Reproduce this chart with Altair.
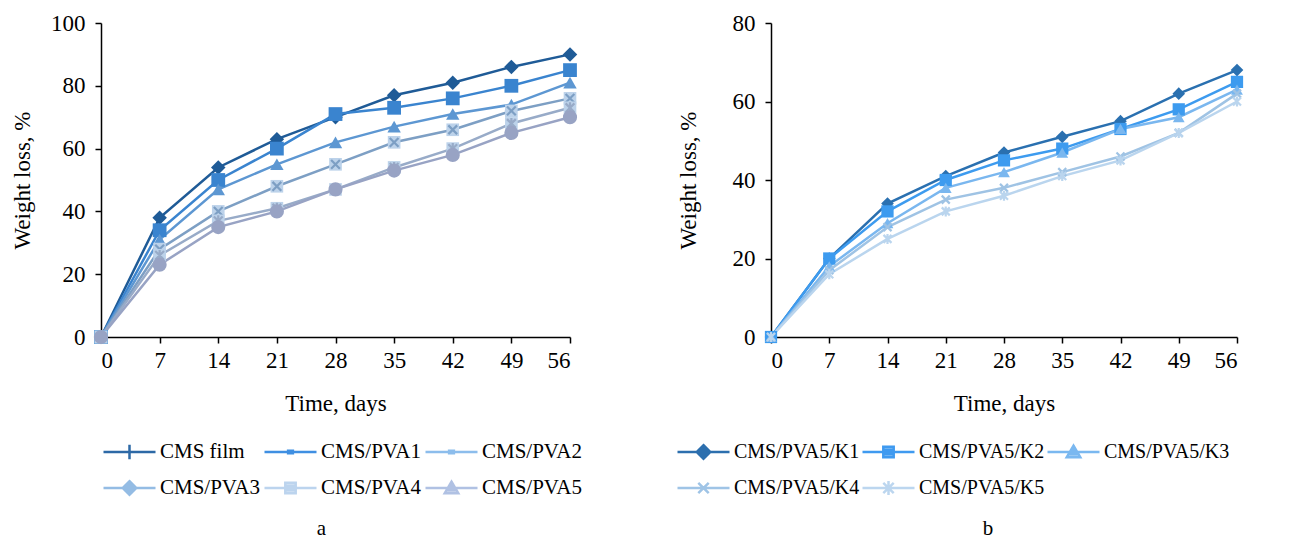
import altair as alt
import pandas as pd

days = [0, 7, 14, 21, 28, 35, 42, 49, 56]

# Panel a
series_a = ["CMS film", "CMS/PVA1", "CMS/PVA2", "CMS/PVA3", "CMS/PVA4", "CMS/PVA5"]
cms_film = [0, 38, 54, 63, 70, 77, 81, 86, 90]
cms_pva1 = [0, 34, 50, 60, 71, 73, 76, 80, 85]
cms_pva2 = [0, 31, 47, 55, 62, 67, 71, 74, 81]
cms_pva3 = [0, 28, 40, 48, 55, 62, 66, 72, 76]
cms_pva4 = [0, 26, 37, 41, 47, 54, 60, 68, 73]
cms_pva5 = [0, 23, 35, 40, 47, 53, 58, 65, 70]

# Panel b
series_b = ["CMS/PVA5/K1", "CMS/PVA5/K2", "CMS/PVA5/K3", "CMS/PVA5/K4", "CMS/PVA5/K5"]
k1 = [0, 20, 34, 41, 47, 51, 55, 62, 68]
k2 = [0, 20, 32, 40, 45, 48, 53, 58, 65]
k3 = [0, 18, 29, 38, 42, 47, 53, 56, 63]
k4 = [0, 17, 28, 35, 38, 42, 46, 52, 62]
k5 = [0, 16, 25, 32, 36, 41, 45, 52, 60]

FONT = "Liberation Serif"
AXFS = 23

X_PATH = "M-0.8,-0.8L0.8,0.8M-0.8,0.8L0.8,-0.8"
AST_PATH = "M-0.8,-0.8L0.8,0.8M-0.8,0.8L0.8,-0.8M0,-1L0,1"

# plot marker styles: (shape, filled, size)
markers_a = [("diamond", True, 210), ("square", True, 190), ("triangle-up", True, 180),
             (X_PATH, False, 120), (AST_PATH, False, 120), ("circle", True, 200)]
bg_a = [False, False, False, True, True, False]
line_colors_a = ["#1f5b97", "#3a84cf", "#5d97d2", "#7d9fc4", "#98abc8", "#98a3c4"]
legend_colors_a = ["#2d69a6", "#3f8fe2", "#8cbdec", "#94bce4", "#bcd4ee", "#b0c1e3"]

# legend glyphs: a horizontal line with a small marker (hatched so it reads as filled)
LINE = "M-1,0L1,0"
G_PLUS = "M0,-0.28L0,0.28"
G_DASH = "M-0.14,-0.045L0.14,-0.045M-0.14,0.045L0.14,0.045"
G_DIAMOND = ("M0,-0.26L0.26,0L0,0.26L-0.26,0Z"
             "M-0.19,-0.07L0.19,-0.07M-0.19,0.07L0.19,0.07"
             "M-0.12,-0.14L0.12,-0.14M-0.12,0.14L0.12,0.14"
             "M-0.05,-0.21L0.05,-0.21M-0.05,0.21L0.05,0.21")
G_SQUARE = ("M-0.2,-0.2L0.2,-0.2L0.2,0.2L-0.2,0.2Z"
            "M-0.2,-0.1L0.2,-0.1M-0.2,0.1L0.2,0.1")
G_TRIANGLE = ("M0,-0.24L0.26,0.2L-0.26,0.2Z"
              "M-0.08,-0.1L0.08,-0.1M-0.14,0L0.14,0M-0.2,0.1L0.2,0.1")
G_X = "M-0.2,-0.2L0.2,0.2M-0.2,0.2L0.2,-0.2"
G_AST = "M-0.2,-0.2L0.2,0.2M-0.2,0.2L0.2,-0.2M0,-0.27L0,0.27"

legend_paths_a = [LINE + G_PLUS, LINE + G_DASH, LINE + G_DASH,
                  LINE + G_DIAMOND, LINE + G_SQUARE, LINE + G_TRIANGLE]

markers_b = [("diamond", True, 160), ("square", True, 150), ("triangle-up", True, 140),
             (X_PATH, False, 100), (AST_PATH, False, 100)]
bg_b = [False, False, False, False, False]
line_colors_b = ["#2a70b0", "#3d9bef", "#7ab7ef", "#9fc3e4", "#bad5ee"]
legend_colors_b = ["#2c6fae", "#3f9af0", "#7ab8f0", "#9fc4e6", "#bcd6ef"]
legend_paths_b = [LINE + G_DIAMOND, LINE + G_SQUARE, LINE + G_TRIANGLE,
                  LINE + G_X, LINE + G_AST]


def panel(names, value_lists, line_colors, markers, bgs, legend_colors, legend_paths,
          ymax, width, height, label, legend_x, y_title_pad, title_dx, leg_fs, col_pad):
    df = pd.DataFrame({
        "day": days * len(names),
        "loss": [v for vals in value_lists for v in vals],
        "series": [n for n in names for _ in days],
    })
    base = alt.Chart(df)
    x = alt.X("day:Q", scale=alt.Scale(domain=[0, 56], nice=False, zero=False),
              axis=alt.Axis(values=days, title="Time, days", labelAngle=0))
    y = alt.Y("loss:Q", scale=alt.Scale(domain=[0, ymax], nice=False),
              axis=alt.Axis(values=list(range(0, ymax + 1, 20)), title="Weight loss, %",
                            titlePadding=y_title_pad))
    color = alt.Color("series:N", scale=alt.Scale(domain=names, range=line_colors), legend=None)

    layers = [base.mark_line(strokeWidth=2.5).encode(x=x, y=y, color=color)]
    for name, (shape, filled, size), bg in zip(names, markers, bgs):
        sub = base.transform_filter(alt.datum.series == name)
        if bg:
            layers.append(sub.mark_point(shape="square", filled=True, size=size + 40,
                                         color="#bcd2ea", opacity=1).encode(x=x, y=y))
        if filled:
            layers.append(sub.mark_point(shape=shape, filled=True, size=size, opacity=1)
                          .encode(x=x, y=y, color=color))
        else:
            layers.append(sub.mark_point(shape=shape, filled=False, size=size, opacity=1,
                                         strokeWidth=2.2).encode(x=x, y=y, color=color))

    leg = alt.Legend(title=None, orient="none", legendX=legend_x, legendY=417,
                     direction="horizontal", columns=3,
                     symbolSize=2704, clipHeight=24, rowPadding=12, columnPadding=col_pad,
                     labelOffset=3, symbolStrokeWidth=2.5, labelFont=FONT, labelFontSize=leg_fs,
                     labelColor="black", padding=0, labelLimit=300)
    # invisible carrier for the legend: points pushed outside the clipped plot area
    legend_layer = base.transform_calculate(hidden="datum.loss - 1000").mark_point(
        filled=False, strokeWidth=2.5, opacity=1, clip=True).encode(
        x=x,
        y=alt.Y("hidden:Q", scale=alt.Scale(domain=[0, ymax], nice=False)),
        color=alt.Color("series:N", scale=alt.Scale(domain=names, range=legend_colors), legend=leg),
        shape=alt.Shape("series:N", scale=alt.Scale(domain=names, range=legend_paths), legend=leg),
    )
    layers.append(legend_layer)
    return alt.layer(*layers).resolve_scale(color="independent", shape="independent").properties(
        width=width, height=height,
        title=alt.TitleParams(label, orient="bottom", font=FONT, fontSize=21,
                              fontWeight="normal", color="black", offset=18, dx=title_dx),
    )


pa = panel(series_a, [cms_film, cms_pva1, cms_pva2, cms_pva3, cms_pva4, cms_pva5],
           line_colors_a, markers_a, bg_a, legend_colors_a, legend_paths_a, 100, 469, 314, "a",
           1, 16, -14, 21, 3)
pb = panel(series_b, [k1, k2, k3, k4, k5],
           line_colors_b, markers_b, bg_b, legend_colors_b, legend_paths_b, 80, 466, 314, "b",
           -95, 32, -16, 20, 1)

chart = alt.hconcat(pa, pb, spacing=94).resolve_scale(
    color="independent", shape="independent",
).resolve_legend(
    color="independent", shape="independent",
).properties(
    padding={"left": 3, "top": 4, "right": 0, "bottom": 0},
).configure_view(stroke=None).configure_axis(
    grid=False, domainColor="black", domainWidth=1.5, tickColor="black", tickWidth=1.5,
    tickSize=6, labelFont=FONT, labelFontSize=AXFS, labelColor="black", titleFont=FONT,
    titleFontSize=AXFS, titleFontWeight="normal", titleColor="black",
).configure_axisY(labelPadding=10).configure_axisX(labelPadding=6, titlePadding=20)

chart.save("out.html", embed_options={"renderer": "svg", "actions": False})
